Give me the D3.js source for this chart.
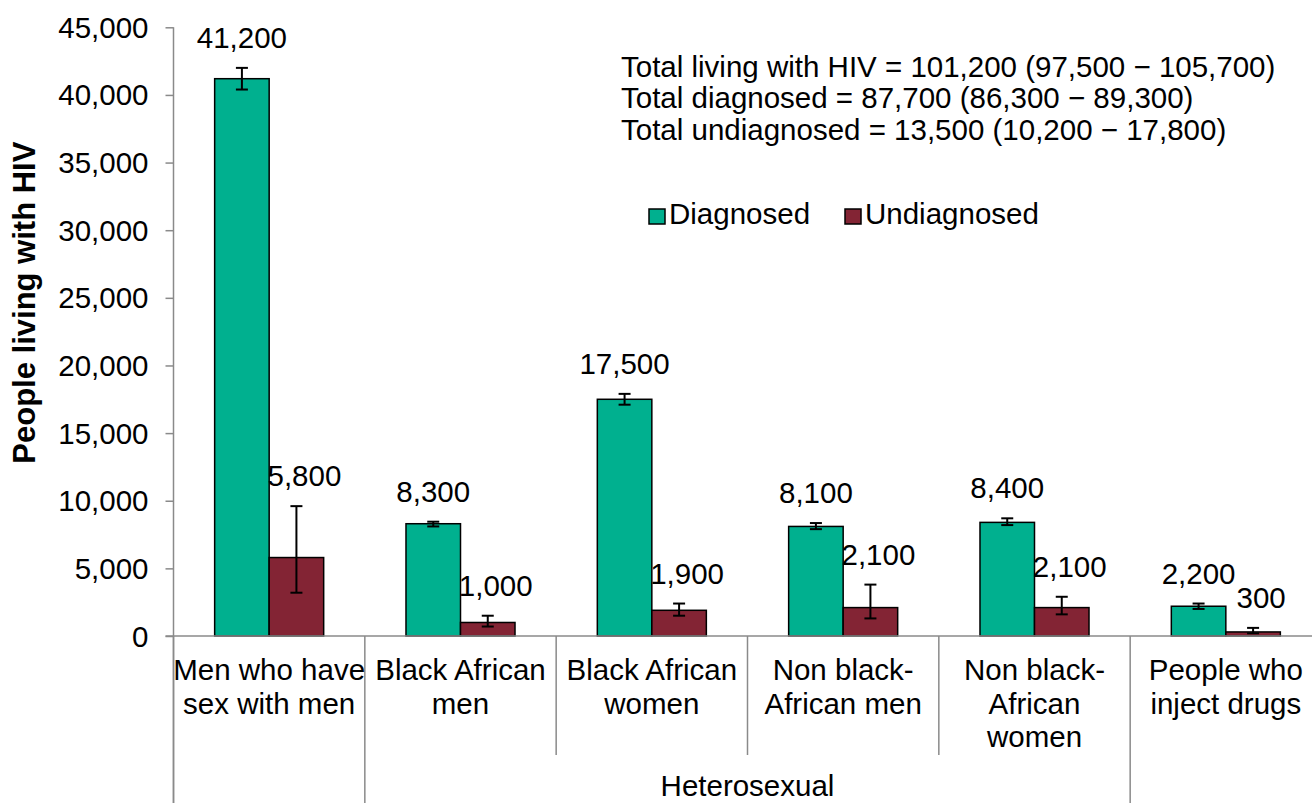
<!DOCTYPE html>
<html>
<head>
<meta charset="utf-8">
<script src="https://cdn.jsdelivr.net/npm/d3@7"></script>
<style>
  html, body { margin: 0; padding: 0; background: #fff; overflow: hidden; }
  svg { display: block; font-family: "Liberation Sans", Arial, sans-serif; }
</style>
</head>
<body>
<svg id="chart" width="1312" height="803"></svg>
<script>
// ---------- data ----------
const categories = [
  ["Men who have", "sex with men"],
  ["Black African", "men"],
  ["Black African", "women"],
  ["Non black-", "African men"],
  ["Non black-", "African", "women"],
  ["People who", "inject drugs"]
];
const seriesNames = ["Diagnosed", "Undiagnosed"];
const diagnosed     = [41200, 8300, 17500, 8100, 8400, 2200];
const diagnosedLow  = [40400, 8100, 17100, 7900, 8200, 2000];
const diagnosedHigh = [42000, 8450, 17900, 8350, 8700, 2400];
const undiagnosed     = [5800, 1000, 1900, 2100, 2100, 300];
const undiagnosedLow  = [3200, 700, 1500, 1300, 1600, 200];
const undiagnosedHigh = [9600, 1500, 2400, 3800, 2900, 600];
const yTicks = [0, 5000, 10000, 15000, 20000, 25000, 30000, 35000, 40000, 45000];
const groupLabel = "Heterosexual";
const groupSpan = [1, 4]; // category index range
const totalsText = [
  "Total living with HIV = 101,200 (97,500 \u2212 105,700)",
  "Total diagnosed = 87,700 (86,300 \u2212 89,300)",
  "Total undiagnosed = 13,500 (10,200 \u2212 17,800)"
];
const yTitle = "People living with HIV";

// ---------- styles ----------
const colors = { Diagnosed: "#00B08F", Undiagnosed: "#832434" };
const axisColor = "#8a8a8a";
const fontSize = 29.5;

const svg = d3.select("#chart");
const pLeft = 173.5, pRight = 1321.5, pTop = 27.3, pBottom = 636;

const idx = categories.map((d, i) => i);
const x0 = d3.scaleBand().domain(idx).range([pLeft, pRight]).paddingInner(0).paddingOuter(0);
const x1 = d3.scaleBand().domain(seriesNames).range([0, x0.bandwidth()]).paddingInner(0).paddingOuter(0.755);
const y = d3.scaleLinear().domain([0, 45000]).range([pBottom, pTop]);

// rows
const rows = idx.map(i => [
  { cat: i, s: "Diagnosed", v: diagnosed[i], lo: diagnosedLow[i], hi: diagnosedHigh[i] },
  { cat: i, s: "Undiagnosed", v: undiagnosed[i], lo: undiagnosedLow[i], hi: undiagnosedHigh[i] }
]).flat();

// y axis
const yAxis = d3.axisLeft(y).tickValues(yTicks).tickSize(8).tickSizeOuter(0).tickPadding(17)
  .tickFormat(d3.format(","));
const gy = svg.append("g").attr("transform", `translate(${pLeft},0)`).call(yAxis);
gy.select(".domain").remove();
gy.selectAll(".tick line").attr("stroke", axisColor).attr("stroke-width", 1.5);
gy.selectAll(".tick text").attr("font-size", fontSize).attr("fill", "#000")
  .attr("font-family", "Liberation Sans, Arial, sans-serif").attr("dy", "0.34em");
svg.append("line").attr("x1", pLeft).attr("x2", pLeft).attr("y1", pTop).attr("y2", 803)
  .attr("stroke", axisColor).attr("stroke-width", 1.5);

// y title
svg.append("text")
  .attr("transform", `translate(35,${(pTop + pBottom) / 2 - 29}) rotate(-90)`)
  .attr("text-anchor", "middle").attr("font-weight", "bold").attr("font-size", 31)
  .text(yTitle);

// bars
svg.append("g").selectAll("rect").data(rows).join("rect")
  .attr("x", d => x0(d.cat) + x1(d.s))
  .attr("width", x1.bandwidth())
  .attr("y", d => y(d.v))
  .attr("height", d => y(0) - y(d.v))
  .attr("fill", d => colors[d.s])
  .attr("stroke", "#000").attr("stroke-width", 1.5);

// x baseline
svg.append("line").attr("x1", pLeft - 8).attr("x2", pRight).attr("y1", pBottom).attr("y2", pBottom)
  .attr("stroke", axisColor).attr("stroke-width", 1.5);

// dividers
const bounds = idx.map(i => x0(i)).concat([pRight]);
bounds.forEach((bx, i) => {
  const inner = i > groupSpan[0] && i <= groupSpan[1];
  svg.append("line").attr("x1", bx).attr("x2", bx).attr("y1", pBottom).attr("y2", inner ? 755 : 803)
    .attr("stroke", axisColor).attr("stroke-width", 1.5);
});

// error bars
const eb = svg.append("g").attr("stroke", "#000").attr("stroke-width", 2);
rows.forEach(d => {
  const cx = x0(d.cat) + x1(d.s) + x1.bandwidth() / 2;
  eb.append("line").attr("x1", cx).attr("x2", cx).attr("y1", y(d.lo)).attr("y2", y(d.hi));
  eb.append("line").attr("x1", cx - 6).attr("x2", cx + 6).attr("y1", y(d.lo)).attr("y2", y(d.lo));
  eb.append("line").attr("x1", cx - 6).attr("x2", cx + 6).attr("y1", y(d.hi)).attr("y2", y(d.hi));
});

// data labels
svg.append("g").selectAll("text").data(rows).join("text")
  .attr("x", d => x0(d.cat) + x1(d.s) + x1.bandwidth() / 2 + (d.s === "Undiagnosed" ? 8 : 0))
  .attr("y", d => y(d.hi) - 20)
  .attr("text-anchor", "middle").attr("font-size", fontSize)
  .text(d => d3.format(",")(d.v));

// category labels
categories.forEach((lines, i) => {
  const t = svg.append("text").attr("text-anchor", "middle").attr("font-size", fontSize);
  lines.forEach((ln, k) => {
    t.append("tspan").attr("x", x0(i) + x0.bandwidth() / 2).attr("y", 680 + k * 33.5).text(ln);
  });
});
// group label
svg.append("text").attr("text-anchor", "middle").attr("font-size", fontSize)
  .attr("x", (x0(groupSpan[0]) + x0(groupSpan[1]) + x0.bandwidth()) / 2).attr("y", 796)
  .text(groupLabel);

// totals
const tt = svg.append("text").attr("font-size", fontSize);
totalsText.forEach((ln, k) => tt.append("tspan").attr("x", 621).attr("y", 76.7 + k * 31.7).text(ln));

// legend
const legendX = [649, 845];
seriesNames.forEach((s, i) => {
  const g = svg.append("g").attr("transform", `translate(${legendX[i]},209)`);
  g.append("rect").attr("width", 16).attr("height", 15).attr("fill", colors[s])
    .attr("stroke", "#000").attr("stroke-width", 1.5);
  g.append("text").attr("x", 20).attr("y", 15.3).attr("font-size", fontSize).text(s);
});
</script>
</body>
</html>
